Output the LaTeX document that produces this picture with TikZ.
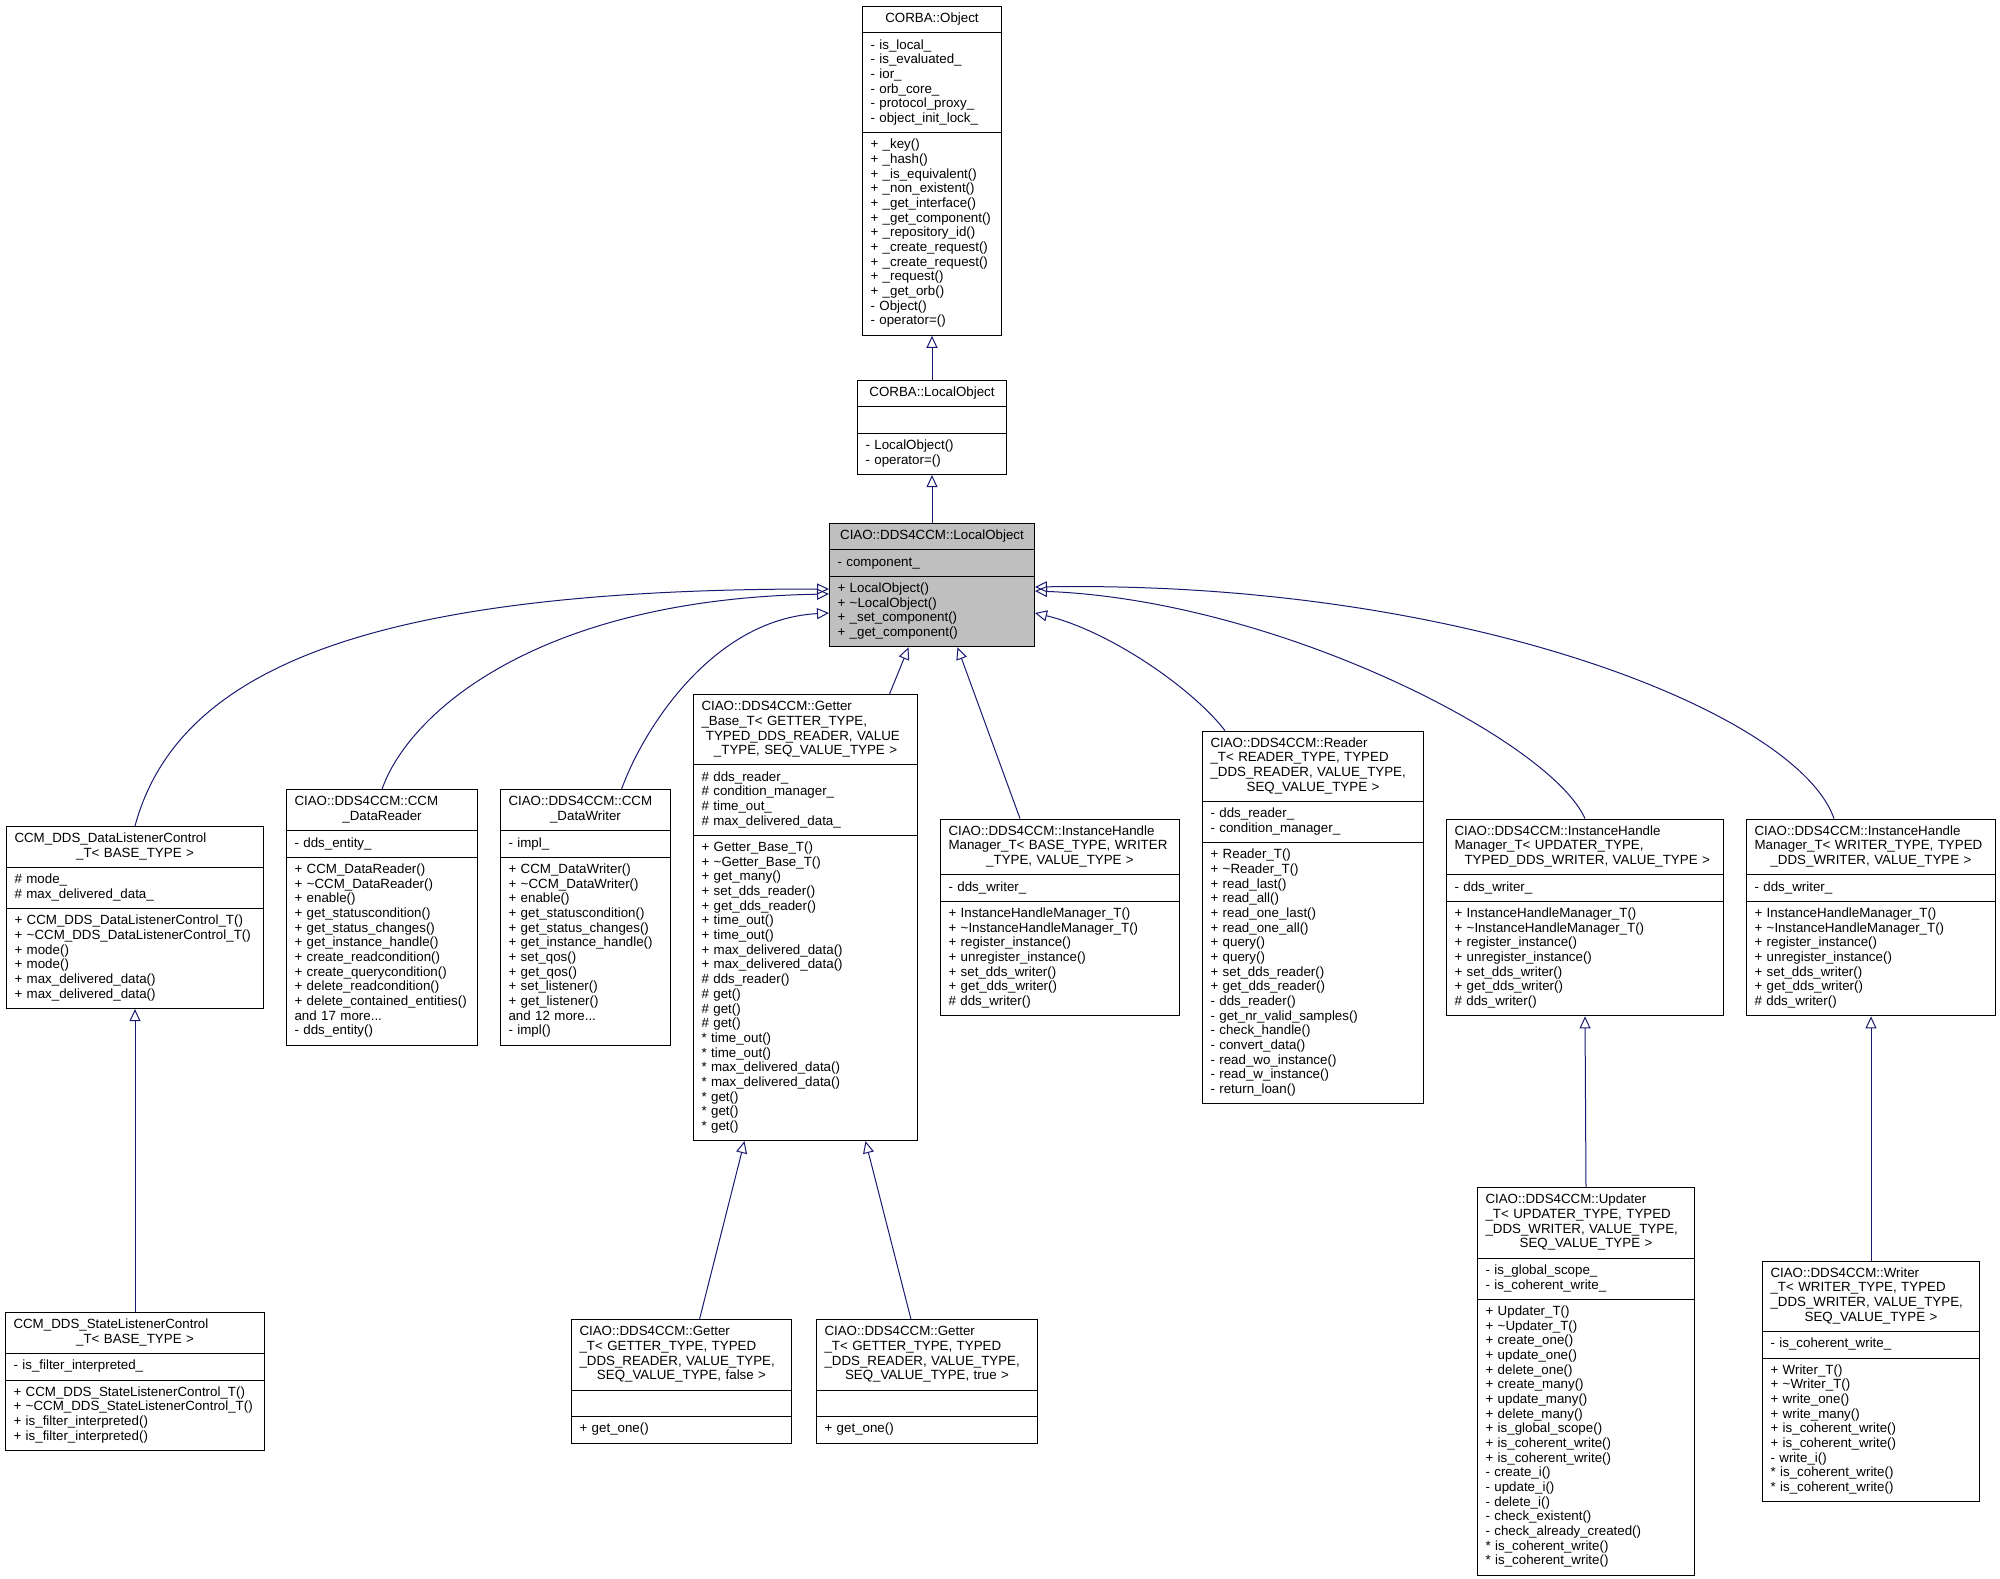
\documentclass[tikz,border=0pt]{standalone}
\usepackage{fontspec}
\setmainfont{Liberation Sans}
\usetikzlibrary{shapes.multipart,arrows.meta}
\definecolor{edgeblue}{HTML}{191970}
\definecolor{nodegray}{HTML}{BFBFBF}
\begin{document}
\begin{tikzpicture}[x=1pt, y=-1pt,
  cls/.style={rectangle split, rectangle split parts=3, draw=black, line width=1pt,
    fill=white, inner xsep=8pt, inner ysep=5.4pt, align=left, anchor=north west,
    font=\fontsize{13.33}{14.67}\selectfont},
  inh/.style={draw=edgeblue, line width=1pt, -{Triangle[open, length=12pt, width=11pt]}}]
  \useasboundingbox (0,0) rectangle (2000,1579);
  % top of the hierarchy
  \node[cls, text width=123pt] (obj) at (862,6) {\strut\makebox[\linewidth]{CORBA::Object}\strut
    \nodepart{two}\strut -~is\_local\_\\-~is\_evaluated\_\\-~ior\_\\-~orb\_core\_\\-~protocol\_proxy\_\\-~object\_init\_lock\_\strut
    \nodepart{three}\strut +~\_key()\\+~\_hash()\\+~\_is\_equivalent()\\+~\_non\_existent()\\+~\_get\_interface()\\+~\_get\_component()\\+~\_repository\_id()\\+~\_create\_request()\\+~\_create\_request()\\+~\_request()\\+~\_get\_orb()\\-~Object()\\-~operator=()\strut};
  \node[cls, text width=133pt] (corbalo) at (857,380) {\strut\makebox[\linewidth]{CORBA::LocalObject}\strut
    \nodepart{two}\strut
    \nodepart{three}\strut -~LocalObject()\\-~operator=()\strut};
  \node[cls, fill=nodegray, text width=189pt] (ciaolo) at (829,523) {\strut\makebox[\linewidth]{CIAO::DDS4CCM::LocalObject}\strut
    \nodepart{two}\strut -~component\_\strut
    \nodepart{three}\strut +~LocalObject()\\+~\textasciitilde LocalObject()\\+~\_set\_component()\\+~\_get\_component()\strut};
  % second row
  \node[cls, text width=241pt] (dlc) at (6,826) {\strut CCM\_DDS\_DataListenerControl\\\makebox[\linewidth]{\_T< BASE\_TYPE >}\strut
    \nodepart{two}\strut \#~mode\_\\\#~max\_delivered\_data\_\strut
    \nodepart{three}\strut +~CCM\_DDS\_DataListenerControl\_T()\\+~\textasciitilde CCM\_DDS\_DataListenerControl\_T()\\+~mode()\\+~mode()\\+~max\_delivered\_data()\\+~max\_delivered\_data()\strut};
  \node[cls, text width=175pt] (dreader) at (286,789.3) {\strut CIAO::DDS4CCM::CCM\\\makebox[\linewidth]{\_DataReader}\strut
    \nodepart{two}\strut -~dds\_entity\_\strut
    \nodepart{three}\strut +~CCM\_DataReader()\\+~\textasciitilde CCM\_DataReader()\\+~enable()\\+~get\_statuscondition()\\+~get\_status\_changes()\\+~get\_instance\_handle()\\+~create\_readcondition()\\+~create\_querycondition()\\+~delete\_readcondition()\\+~delete\_contained\_entities()\\and 17 more...\\-~dds\_entity()\strut};
  \node[cls, text width=154pt] (dwriter) at (500,789.3) {\strut CIAO::DDS4CCM::CCM\\\makebox[\linewidth]{\_DataWriter}\strut
    \nodepart{two}\strut -~impl\_\strut
    \nodepart{three}\strut +~CCM\_DataWriter()\\+~\textasciitilde CCM\_DataWriter()\\+~enable()\\+~get\_statuscondition()\\+~get\_status\_changes()\\+~get\_instance\_handle()\\+~set\_qos()\\+~get\_qos()\\+~set\_listener()\\+~get\_listener()\\and 12 more...\\-~impl()\strut};
  \node[cls, text width=208pt] (getterbase) at (693,694) {\strut CIAO::DDS4CCM::Getter\\\_Base\_T< GETTER\_TYPE,\\\ TYPED\_DDS\_READER, VALUE\\\makebox[\linewidth]{\_TYPE, SEQ\_VALUE\_TYPE >}\strut
    \nodepart{two}\strut \#~dds\_reader\_\\\#~condition\_manager\_\\\#~time\_out\_\\\#~max\_delivered\_data\_\strut
    \nodepart{three}\strut +~Getter\_Base\_T()\\+~\textasciitilde Getter\_Base\_T()\\+~get\_many()\\+~set\_dds\_reader()\\+~get\_dds\_reader()\\+~time\_out()\\+~time\_out()\\+~max\_delivered\_data()\\+~max\_delivered\_data()\\\#~dds\_reader()\\\#~get()\\\#~get()\\\#~get()\\{}*~time\_out()\\{}*~time\_out()\\{}*~max\_delivered\_data()\\{}*~max\_delivered\_data()\\{}*~get()\\{}*~get()\\{}*~get()\strut};
  \node[cls, text width=223pt] (ihmbase) at (940,818.6) {\strut CIAO::DDS4CCM::InstanceHandle\\Manager\_T< BASE\_TYPE, WRITER\\\makebox[\linewidth]{\_TYPE, VALUE\_TYPE >}\strut
    \nodepart{two}\strut -~dds\_writer\_\strut
    \nodepart{three}\strut +~InstanceHandleManager\_T()\\+~\textasciitilde InstanceHandleManager\_T()\\+~register\_instance()\\+~unregister\_instance()\\+~set\_dds\_writer()\\+~get\_dds\_writer()\\\#~dds\_writer()\strut};
  \node[cls, text width=205pt] (reader) at (1202,730.6) {\strut CIAO::DDS4CCM::Reader\\\_T< READER\_TYPE, TYPED\\\_DDS\_READER, VALUE\_TYPE,\\\makebox[\linewidth]{SEQ\_VALUE\_TYPE >}\strut
    \nodepart{two}\strut -~dds\_reader\_\\-~condition\_manager\_\strut
    \nodepart{three}\strut +~Reader\_T()\\+~\textasciitilde Reader\_T()\\+~read\_last()\\+~read\_all()\\+~read\_one\_last()\\+~read\_one\_all()\\+~query()\\+~query()\\+~set\_dds\_reader()\\+~get\_dds\_reader()\\-~dds\_reader()\\-~get\_nr\_valid\_samples()\\-~check\_handle()\\-~convert\_data()\\-~read\_wo\_instance()\\-~read\_w\_instance()\\-~return\_loan()\strut};
  \node[cls, text width=261pt] (ihmupd) at (1446,818.6) {\strut CIAO::DDS4CCM::InstanceHandle\\Manager\_T< UPDATER\_TYPE,\\\makebox[\linewidth]{\ TYPED\_DDS\_WRITER, VALUE\_TYPE >}\strut
    \nodepart{two}\strut -~dds\_writer\_\strut
    \nodepart{three}\strut +~InstanceHandleManager\_T()\\+~\textasciitilde InstanceHandleManager\_T()\\+~register\_instance()\\+~unregister\_instance()\\+~set\_dds\_writer()\\+~get\_dds\_writer()\\\#~dds\_writer()\strut};
  \node[cls, text width=233pt] (ihmwri) at (1746,818.6) {\strut CIAO::DDS4CCM::InstanceHandle\\Manager\_T< WRITER\_TYPE, TYPED\\\makebox[\linewidth]{\_DDS\_WRITER, VALUE\_TYPE >}\strut
    \nodepart{two}\strut -~dds\_writer\_\strut
    \nodepart{three}\strut +~InstanceHandleManager\_T()\\+~\textasciitilde InstanceHandleManager\_T()\\+~register\_instance()\\+~unregister\_instance()\\+~set\_dds\_writer()\\+~get\_dds\_writer()\\\#~dds\_writer()\strut};
  % third row
  \node[cls, text width=243pt] (slc) at (5,1312) {\strut CCM\_DDS\_StateListenerControl\\\makebox[\linewidth]{\_T< BASE\_TYPE >}\strut
    \nodepart{two}\strut -~is\_filter\_interpreted\_\strut
    \nodepart{three}\strut +~CCM\_DDS\_StateListenerControl\_T()\\+~\textasciitilde CCM\_DDS\_StateListenerControl\_T()\\+~is\_filter\_interpreted()\\+~is\_filter\_interpreted()\strut};
  \node[cls, text width=204pt] (getfalse) at (571,1319.3) {\strut CIAO::DDS4CCM::Getter\\\_T< GETTER\_TYPE, TYPED\\\_DDS\_READER, VALUE\_TYPE,\\\makebox[\linewidth]{SEQ\_VALUE\_TYPE, false >}\strut
    \nodepart{two}\strut
    \nodepart{three}\strut +~get\_one()\strut};
  \node[cls, text width=205pt] (gettrue) at (816,1319.3) {\strut CIAO::DDS4CCM::Getter\\\_T< GETTER\_TYPE, TYPED\\\_DDS\_READER, VALUE\_TYPE,\\\makebox[\linewidth]{SEQ\_VALUE\_TYPE, true >}\strut
    \nodepart{two}\strut
    \nodepart{three}\strut +~get\_one()\strut};
  \node[cls, text width=201pt] (updater) at (1477,1187.3) {\strut CIAO::DDS4CCM::Updater\\\_T< UPDATER\_TYPE, TYPED\\\_DDS\_WRITER, VALUE\_TYPE,\\\makebox[\linewidth]{SEQ\_VALUE\_TYPE >}\strut
    \nodepart{two}\strut -~is\_global\_scope\_\\-~is\_coherent\_write\_\strut
    \nodepart{three}\strut +~Updater\_T()\\+~\textasciitilde Updater\_T()\\+~create\_one()\\+~update\_one()\\+~delete\_one()\\+~create\_many()\\+~update\_many()\\+~delete\_many()\\+~is\_global\_scope()\\+~is\_coherent\_write()\\+~is\_coherent\_write()\\-~create\_i()\\-~update\_i()\\-~delete\_i()\\-~check\_existent()\\-~check\_already\_created()\\{}*~is\_coherent\_write()\\{}*~is\_coherent\_write()\strut};
  \node[cls, text width=201pt] (writer) at (1762,1260.6) {\strut CIAO::DDS4CCM::Writer\\\_T< WRITER\_TYPE, TYPED\\\_DDS\_WRITER, VALUE\_TYPE,\\\makebox[\linewidth]{SEQ\_VALUE\_TYPE >}\strut
    \nodepart{two}\strut -~is\_coherent\_write\_\strut
    \nodepart{three}\strut +~Writer\_T()\\+~\textasciitilde Writer\_T()\\+~write\_one()\\+~write\_many()\\+~is\_coherent\_write()\\+~is\_coherent\_write()\\-~write\_i()\\{}*~is\_coherent\_write()\\{}*~is\_coherent\_write()\strut};
  % inheritance edges
  \draw[inh] (corbalo.north) -- (obj.south);
  \draw[inh] (ciaolo.north) -- (corbalo.south);
  \draw[inh] (dlc.north) .. controls (179,663) and (383,589) .. ([yshift=-66pt]ciaolo.north west);
  \draw[inh] (dreader.north) .. controls (408,714) and (536,599) .. ([yshift=-71pt]ciaolo.north west);
  \draw[inh] ([xshift=36pt]dwriter.north) .. controls (644,727) and (714,619) .. ([yshift=-90pt]ciaolo.north west);
  \draw[inh] ([xshift=84pt]getterbase.north) -- ([xshift=-23.5pt]ciaolo.south);
  \draw[inh] ([xshift=-40pt]ihmbase.north) -- ([xshift=25.5pt]ciaolo.south);
  \draw[inh] ([xshift=-88pt]reader.north) .. controls (1193,689) and (1110,631) .. ([yshift=-90pt]ciaolo.north east);
  \draw[inh] (ihmupd.north) .. controls (1550,740) and (1276,600) .. ([yshift=-68pt]ciaolo.north east);
  \draw[inh] ([xshift=-37pt]ihmwri.north) .. controls (1798,714) and (1467,580) .. ([yshift=-64pt]ciaolo.north east);
  \draw[inh] (slc.north) -- (dlc.south);
  \draw[inh] ([xshift=18pt]getfalse.north) -- ([xshift=-61pt]getterbase.south);
  \draw[inh] ([xshift=-16pt]gettrue.north) -- ([xshift=60pt]getterbase.south);
  \draw[inh] (updater.north) -- (ihmupd.south);
  \draw[inh] (writer.north) -- (ihmwri.south);
\end{tikzpicture}
\end{document}
